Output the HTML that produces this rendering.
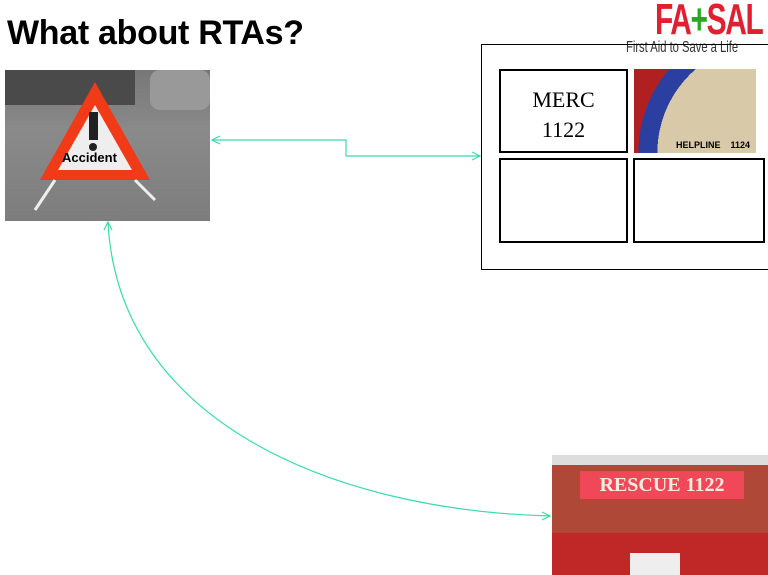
<!DOCTYPE html>
<html><head><style>
body{margin:0;width:768px;height:575px;background:#fff;position:relative;overflow:hidden;font-family:"Liberation Sans",sans-serif}
.a{position:absolute}
</style></head><body>
<div class="a" style="left:7px;top:14px;font-size:34px;font-weight:bold;letter-spacing:-0.3px;white-space:nowrap">What about RTAs?</div>
<div class="a" style="left:655px;top:-5px;font-size:44px;font-weight:bold;color:#e02030;letter-spacing:-2px;transform:scaleX(0.68);transform-origin:left;white-space:nowrap">FA<span style="color:#2a2">+</span>SAL</div>
<div class="a" style="left:626px;top:39px;font-size:16px;color:#333;transform:scaleX(0.7);transform-origin:left;white-space:nowrap">First Aid to Save a Life</div>
<!-- accident image -->
<div class="a" style="left:5px;top:70px;width:205px;height:151px;background:linear-gradient(#777 0%,#8a8a8a 40%,#7d7d7d 100%);overflow:hidden">
<div class="a" style="left:0;top:0;width:130px;height:35px;background:#4a4a4a"></div>
<div class="a" style="left:145px;top:0;width:60px;height:40px;background:#999;border-radius:10px"></div>
<svg class="a" style="left:0;top:0" width="205" height="151"><polygon points="90,12 145,110 35,110" fill="#f03a18"/><polygon points="90,35 127,100 53,100" fill="#eee"/><rect x="84" y="42" width="9" height="28" fill="#222"/><circle cx="88" cy="77" r="4" fill="#222"/><text x="57" y="92" font-size="13" font-weight="bold" font-family="Liberation Sans">Accident</text><line x1="50" y1="110" x2="30" y2="140" stroke="#eee" stroke-width="3"/><line x1="130" y1="110" x2="150" y2="130" stroke="#eee" stroke-width="3"/></svg>
</div>
<!-- box -->
<div class="a" style="left:481px;top:44px;width:300px;height:224px;border:1px solid #000"></div>
<div class="a" style="left:499px;top:69px;width:129px;height:84px;border:2px solid #000;font-family:'Liberation Serif',serif;font-size:22px;text-align:center;line-height:30px;padding-top:14px;box-sizing:border-box">MERC<br>1122</div>
<div class="a" style="left:634px;top:69px;width:122px;height:84px;overflow:hidden;background:radial-gradient(circle at 110% 100%,#d8c9a8 70%,#2a3fa0 70%,#2a3fa0 82%,#b02020 82%)"><div class="a" style="left:42px;top:71px;font-size:9px;font-weight:bold;white-space:nowrap">HELPLINE &nbsp;&nbsp;&nbsp;1124</div></div>
<div class="a" style="left:499px;top:158px;width:129px;height:85px;border:2px solid #000;box-sizing:border-box"></div>
<div class="a" style="left:633px;top:158px;width:132px;height:85px;border:2px solid #000;box-sizing:border-box"></div>
<!-- rescue -->
<div class="a" style="left:552px;top:455px;width:216px;height:120px;background:#b04838;overflow:hidden">
<div class="a" style="left:0;top:0;width:216px;height:10px;background:#ddd"></div>
<div class="a" style="left:28px;top:16px;width:164px;height:28px;background:#f04858;color:#f5eee0;font-family:'Liberation Serif',serif;font-weight:bold;font-size:20px;text-align:center;line-height:28px">RESCUE 1122</div>
<div class="a" style="left:0;top:78px;width:216px;height:42px;background:#c02828"></div>
<div class="a" style="left:78px;top:98px;width:50px;height:22px;background:#eee"></div>
</div>
<svg class="a" style="left:0;top:0" width="768" height="575" fill="none" stroke="#3ddba8" stroke-width="1.2">
<polyline points="212,140 346,140 346,156 480,156"/>
<polyline points="220,136 212,140 220,144"/>
<polyline points="472,152 480,156 472,160"/>
<path d="M108,222 C118,420 330,510 550,516"/>
<polyline points="104,230 108,222 112,230"/>
<polyline points="542,512 550,516 542,520"/>
</svg>
</body></html>
